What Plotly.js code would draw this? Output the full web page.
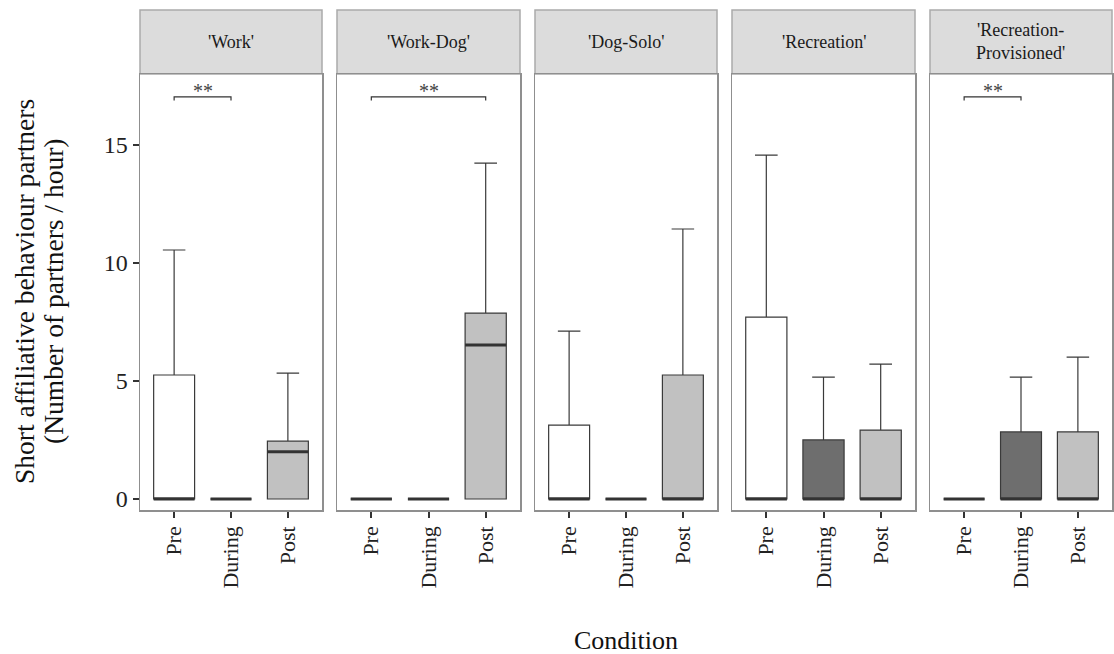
<!DOCTYPE html>
<html>
<head>
<meta charset="utf-8">
<script src="https://cdn.plot.ly/plotly-3.0.1.min.js"></script>
<style>html,body{margin:0;padding:0;background:#fff;}#chart{width:1114px;height:654px;}</style>
</head>
<body>
<div id="chart"></div>
<script>
// ---- data ----
const facets = ["'Work'", "'Work-Dog'", "'Dog-Solo'", "'Recreation'", "'Recreation-<br>Provisioned'"];
const conditions = ["Pre", "During", "Post"];
const q1Vals     = [[0,0,0],[0,0,0],[0,0,0],[0,0,0],[0,0,0]];
const lowerVals  = [[0,0,0],[0,0,0],[0,0,0],[0,0,0],[0,0,0]];
const medianVals = [[0,0,2.0],[0,0,6.52],[0,0,0],[0,0,0],[0,0,0]];
const q3Vals     = [[5.25,0,2.45],[0,0,7.87],[3.13,0,5.25],[7.70,2.50,2.92],[0,2.84,2.84]];
const upperVals  = [[10.54,0,5.33],[0,0,14.22],[7.11,0,11.43],[14.56,5.16,5.71],[0,5.16,6.01]];
const sigFacet = [0, 1, 4];
const sigFrom  = ["Pre", "Pre", "Pre"];
const sigTo    = ["During", "Post", "During"];
const sigLevel = [17.02, 17.02, 17.02];
const sigLabel = ["**", "**", "**"];
const yTicks = [0, 5, 10, 15];
const xTitle = "Condition";
const yTitleLines = ["Short affiliative behaviour partners", "(Number of partners / hour)"];

// ---- styling ----
const fills = {Pre: "#ffffff", During: "#6e6e6e", Post: "#c1c1c1"};
const FONT = "'Liberation Serif', 'Times New Roman', serif";
const W = 1114, H = 654;
const panelPx = [[140,322],[337,520],[535,717],[732,915],[930,1112]];
const plotTop = 74, plotBottom = 510, stripTop = 10;
const yRange = [-0.465, 17.99];
const boxW = 0.72;

const traces = [];
const layout = {
  width: W, height: H,
  margin: {l:0, r:0, t:0, b:0},
  paper_bgcolor: "#fff", plot_bgcolor: "#fff",
  showlegend: false,
  font: {family: FONT, color: "#1a1a1a"},
  shapes: [], annotations: []
};

facets.forEach((f, i) => {
  const n = i + 1;
  const xa = "x" + (n === 1 ? "" : n), ya = "y" + (n === 1 ? "" : n);
  const xKey = "xaxis" + (n === 1 ? "" : n), yKey = "yaxis" + (n === 1 ? "" : n);
  const d0 = panelPx[i][0] / W, d1 = panelPx[i][1] / W;
  layout[xKey] = {
    domain: [d0, d1], anchor: ya, range: [-0.6, 2.6],
    tickvals: conditions.map((c, k) => k), ticktext: conditions,
    tickangle: -90, ticks: "outside", ticklen: 6, tickwidth: 2, tickcolor: "#333",
    showline: true, mirror: true, linecolor: "#8f8f8f", linewidth: 1.5,
    showgrid: false, zeroline: false, fixedrange: true,
    tickfont: {family: FONT, size: 22, color: "#222"}
  };
  layout[yKey] = {
    domain: [(H - plotBottom) / H, (H - plotTop) / H], anchor: xa, range: yRange,
    tickvals: yTicks, ticktext: yTicks.map(String),
    ticks: n === 1 ? "outside" : "", ticklen: 6, tickwidth: 2, tickcolor: "#333",
    showticklabels: n === 1,
    showline: true, mirror: true, linecolor: "#8f8f8f", linewidth: 1.5,
    showgrid: false, zeroline: false, fixedrange: true,
    tickfont: {family: FONT, size: 24, color: "#222"}
  };
  if (n > 1) layout[yKey].matches = "y";

  conditions.forEach((c, k) => {
    traces.push({
      type: "box", xaxis: xa, yaxis: ya,
      x: [k], q1: [q1Vals[i][k]], median: [medianVals[i][k]], q3: [q3Vals[i][k]],
      lowerfence: [lowerVals[i][k]], upperfence: [upperVals[i][k]],
      width: boxW, whiskerwidth: 0.55, boxpoints: false,
      fillcolor: fills[c], line: {color: "#3a3a3a", width: 1.2},
      hoverinfo: "skip"
    });
    traces.push({
      type: "scatter", mode: "lines", xaxis: xa, yaxis: ya,
      x: [k - boxW / 2, k + boxW / 2], y: [medianVals[i][k], medianVals[i][k]],
      line: {color: "#333", width: 3}, hoverinfo: "skip"
    });
  });

  // strip
  layout.shapes.push({
    type: "rect", xref: "paper", yref: "paper",
    x0: d0, x1: d1, y0: (H - plotTop) / H, y1: (H - stripTop) / H,
    fillcolor: "#dcdcdc", line: {color: "#ababab", width: 1.5}, layer: "below"
  });
  layout.annotations.push({
    xref: "paper", yref: "paper", x: (d0 + d1) / 2, y: (H - (plotTop + stripTop) / 2) / H,
    text: f, showarrow: false, xanchor: "center", yanchor: "middle",
    font: {family: FONT, size: 18, color: "#1a1a1a"}
  });
});

// significance brackets
sigFacet.forEach((fi, s) => {
  const n = fi + 1;
  const xa = "x" + (n === 1 ? "" : n), ya = "y" + (n === 1 ? "" : n);
  const a = conditions.indexOf(sigFrom[s]), b = conditions.indexOf(sigTo[s]);
  const lv = sigLevel[s];
  traces.push({
    type: "scatter", mode: "lines", xaxis: xa, yaxis: ya,
    x: [a, a, b, b], y: [lv - 0.15, lv, lv, lv - 0.15],
    line: {color: "#333", width: 1.2}, hoverinfo: "skip"
  });
  layout.annotations.push({
    xref: xa, yref: ya, x: (a + b) / 2, y: lv, text: sigLabel[s],
    showarrow: false, xanchor: "center", yanchor: "bottom", yshift: -7,
    font: {family: FONT, size: 20, color: "#444"}
  });
});

// axis titles
layout.annotations.push({
  xref: "paper", yref: "paper", x: ((panelPx[0][0] + panelPx[4][1]) / 2) / W, y: (H - 640) / H,
  text: xTitle, showarrow: false, xanchor: "center", yanchor: "middle",
  font: {family: FONT, size: 26, color: "#111"}
});
const yTitleX = [25, 54];
yTitleLines.forEach((t, j) => {
  layout.annotations.push({
    xref: "paper", yref: "paper", x: yTitleX[j] / W, y: (H - (plotTop + plotBottom) / 2) / H,
    text: t, textangle: -90, showarrow: false, xanchor: "center", yanchor: "middle",
    font: {family: FONT, size: 27.5, color: "#111"}
  });
});

Plotly.newPlot("chart", traces, layout, {displayModeBar: false, staticPlot: true});
</script>
</body>
</html>
